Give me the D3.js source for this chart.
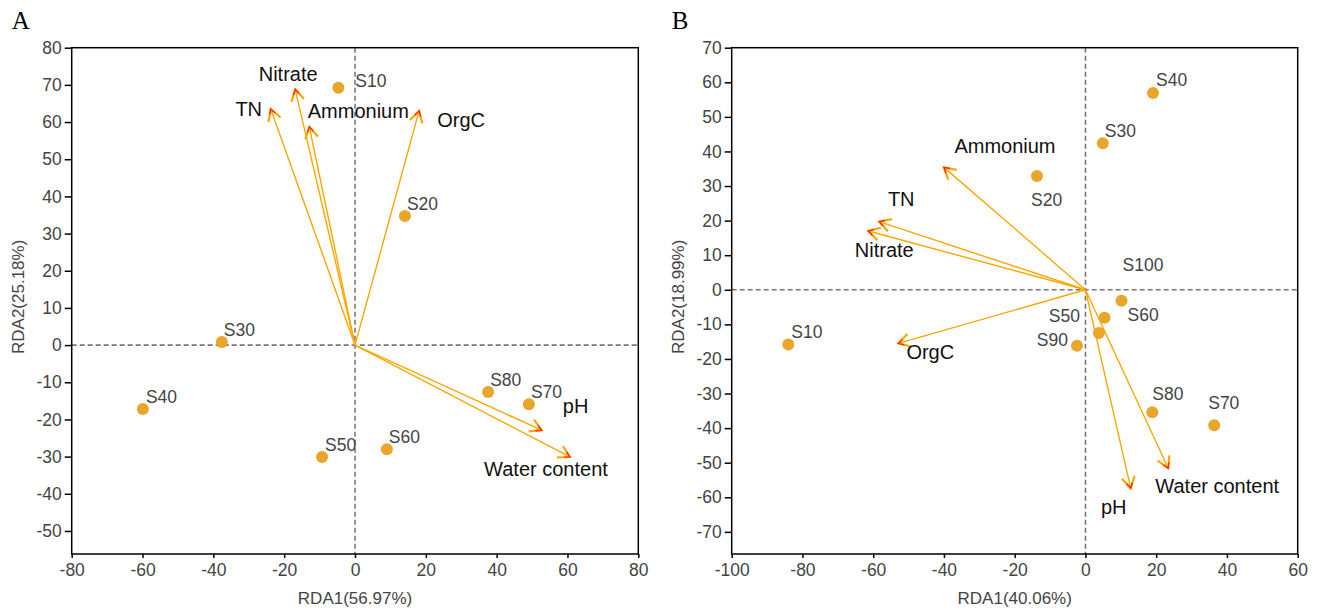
<!DOCTYPE html>
<html>
<head>
<meta charset="utf-8">
<script src="https://cdn.jsdelivr.net/npm/d3@7.9.0/dist/d3.min.js"></script>
<style>
  body { margin: 0; background: #fff; }
  text { font-family: "Liberation Sans", Arial, sans-serif; }
</style>
</head>
<body>
<svg id="chart" width="1320" height="608"></svg>
<script>
// ---- panel A data ----
const sitesA = ["S10", "S20", "S30", "S40", "S50", "S60", "S70", "S80"];
const siteXA = [-4.7, 14.1, -37.6, -59.9, -9.3, 9.0, 49.1, 37.6];
const siteYA = [69.2, 34.7, 0.8, -17.2, -30.1, -28.0, -15.9, -12.6];
const envA = ["TN", "Nitrate", "Ammonium", "OrgC", "pH", "Water content"];
const envXA = [-23.8, -16.9, -12.9, 18.1, 52.7, 60.7];
const envYA = [63.5, 68.8, 58.7, 63.0, -22.9, -30.1];
const ticksXA = [-80, -60, -40, -20, 0, 20, 40, 60, 80];
const ticksYA = [80, 70, 60, 50, 40, 30, 20, 10, 0, -10, -20, -30, -40, -50];

// ---- panel B data ----
const sitesB = ["S10", "S20", "S30", "S40", "S50", "S60", "S70", "S80", "S90", "S100"];
const siteXB = [-84.0, -13.7, 4.9, 19.1, 3.8, 5.4, 36.4, 18.9, -2.4, 10.2];
const siteYB = [-15.8, 32.9, 42.4, 56.9, -12.5, -8.1, -39.2, -35.4, -16.2, -3.2];
const envB = ["Ammonium", "TN", "Nitrate", "OrgC", "pH", "Water content"];
const envXB = [-40.0, -58.3, -61.4, -52.9, 12.8, 23.4];
const envYB = [35.4, 19.7, 17.0, -15.5, -57.4, -51.6];
const ticksXB = [-100, -80, -60, -40, -20, 0, 20, 40, 60];
const ticksYB = [70, 60, 50, 40, 30, 20, 10, 0, -10, -20, -30, -40, -50, -60, -70];

// label placement (pixel offsets from the mark), [dx, dy, anchor]
const siteLabA = [[17, -7, "start"], [2, -12, "start"], [2, -12, "start"], [3, -12, "start"],
                  [3, -12, "start"], [2, -12, "start"], [2, -12, "start"], [2, -12, "start"]];
const envLabA = [[-22, 0], [-7, -15], [49, -16], [42, 9], [34, -24], [-24, 12]];
const siteLabB = [[3, -12, "start"], [-6, 24, "start"], [2, -12, "start"], [3, -13, "start"],
                  [-19, -17, "end"], [23, -3, "start"], [-6, -22, "start"], [0, -18, "start"],
                  [-9, -6, "end"], [1, -36, "start"]];
const envLabB = [[61, -21], [22, -23], [16, 19], [32, 9], [-17, 19], [49, 18]];

const svg = d3.select("#chart");
const pointColor = "#E9A62A";
const arrowColor = "#FFA500";

function drawPanel(p) {
  const x = d3.scaleLinear().domain(p.xDomain).range([p.left, p.right]);
  const y = d3.scaleLinear().domain(p.yDomain).range([p.bottom, p.top]);
  const g = svg.append("g");

  // zero lines
  g.append("line")
    .attr("x1", x(0)).attr("x2", x(0)).attr("y1", p.top).attr("y2", p.bottom)
    .attr("stroke", "#7a7a7a").attr("stroke-width", 1.6).attr("stroke-dasharray", "5,3");
  g.append("line")
    .attr("x1", p.left).attr("x2", p.right).attr("y1", y(0)).attr("y2", y(0))
    .attr("stroke", "#7a7a7a").attr("stroke-width", 1.6).attr("stroke-dasharray", "5,3");

  // axes (plain hyphen for negatives, as in the original)
  const fmt = d => String(d);
  const xAxis = g.append("g")
    .attr("transform", `translate(0,${p.bottom})`)
    .call(d3.axisBottom(x).tickValues(p.ticksX).tickFormat(fmt).tickSize(4).tickPadding(6));
  const yAxis = g.append("g")
    .attr("transform", `translate(${p.left},0)`)
    .call(d3.axisLeft(y).tickValues(p.ticksY).tickFormat(fmt).tickSize(7).tickPadding(3));
  [xAxis, yAxis].forEach(a => {
    a.select(".domain").remove();
    a.selectAll("line").attr("stroke", "#000").attr("stroke-width", 1.5);
    a.selectAll("text").attr("fill", "#444").style("font-size", "17.5px");
  });

  // frame
  g.append("rect")
    .attr("x", p.left).attr("y", p.top)
    .attr("width", p.right - p.left).attr("height", p.bottom - p.top)
    .attr("fill", "none").attr("stroke", "#000").attr("stroke-width", 1.5);

  // environment arrows
  const env = p.env.map((name, i) => ({ name, x: p.envX[i], y: p.envY[i], lab: p.envLab[i] }));
  const head = (d, len, spread) => {
    const tx = x(d.x), ty = y(d.y);
    const a = Math.atan2(y(0) - ty, x(0) - tx);
    const p1 = [tx + len * Math.cos(a + spread), ty + len * Math.sin(a + spread)];
    const p2 = [tx + len * Math.cos(a - spread), ty + len * Math.sin(a - spread)];
    return `M${p1[0]},${p1[1]}L${tx},${ty}L${p2[0]},${p2[1]}`;
  };
  g.selectAll(".shaft").data(env).join("line")
    .attr("x1", x(0)).attr("y1", y(0))
    .attr("x2", d => x(d.x)).attr("y2", d => y(d.y))
    .attr("stroke", arrowColor).attr("stroke-width", 1.4);
  g.selectAll(".head").data(env).join("path")
    .attr("d", d => head(d, 13, 0.52))
    .attr("fill", "none").attr("stroke", arrowColor).attr("stroke-width", 2.2);
  g.selectAll(".tip").data(env).join("path")
    .attr("d", d => head(d, 6, 0.52))
    .attr("fill", "none").attr("stroke", "#FF2A00").attr("stroke-width", 1.3);
  g.selectAll(".envlab").data(env).join("text")
    .attr("x", d => x(d.x) + d.lab[0]).attr("y", d => y(d.y) + d.lab[1])
    .attr("text-anchor", "middle").attr("dominant-baseline", "central")
    .attr("fill", "#111").style("font-size", "20px")
    .text(d => d.name);

  // sites
  const sites = p.sites.map((name, i) => ({ name, x: p.siteX[i], y: p.siteY[i], lab: p.siteLab[i] }));
  g.selectAll(".site").data(sites).join("circle")
    .attr("cx", d => x(d.x)).attr("cy", d => y(d.y)).attr("r", 6)
    .attr("fill", pointColor);
  g.selectAll(".sitelab").data(sites).join("text")
    .attr("x", d => x(d.x) + d.lab[0]).attr("y", d => y(d.y) + d.lab[1])
    .attr("text-anchor", d => d.lab[2]).attr("dominant-baseline", "central")
    .attr("fill", "#444").style("font-size", "17.5px")
    .text(d => d.name);

  // axis titles
  g.append("text")
    .attr("x", (p.left + p.right) / 2).attr("y", 598)
    .attr("text-anchor", "middle").attr("dominant-baseline", "central")
    .attr("fill", "#444").style("font-size", "17px")
    .text(p.xTitle);
  g.append("text")
    .attr("transform", `translate(${p.left - 53},${(p.top + p.bottom) / 2 - 4}) rotate(-90)`)
    .attr("text-anchor", "middle").attr("dominant-baseline", "central")
    .attr("fill", "#444").style("font-size", "17px")
    .text(p.yTitle);

  // panel letter
  g.append("text")
    .attr("x", p.left - 60).attr("y", 29)
    .style("font-family", "'Liberation Serif', 'Times New Roman', serif")
    .style("font-size", "25px").attr("fill", "#000")
    .text(p.letter);
}

drawPanel({
  letter: "A", left: 71.7, right: 638.3, top: 47.7, bottom: 554,
  xDomain: [-80, 80], yDomain: [-56.2, 80],
  ticksX: ticksXA, ticksY: ticksYA,
  sites: sitesA, siteX: siteXA, siteY: siteYA, siteLab: siteLabA,
  env: envA, envX: envXA, envY: envYA, envLab: envLabA,
  xTitle: "RDA1(56.97%)", yTitle: "RDA2(25.18%)"
});
drawPanel({
  letter: "B", left: 731.7, right: 1297.7, top: 47.7, bottom: 554,
  xDomain: [-100, 60], yDomain: [-76.4, 70],
  ticksX: ticksXB, ticksY: ticksYB,
  sites: sitesB, siteX: siteXB, siteY: siteYB, siteLab: siteLabB,
  env: envB, envX: envXB, envY: envYB, envLab: envLabB,
  xTitle: "RDA1(40.06%)", yTitle: "RDA2(18.99%)"
});
</script>
</body>
</html>
